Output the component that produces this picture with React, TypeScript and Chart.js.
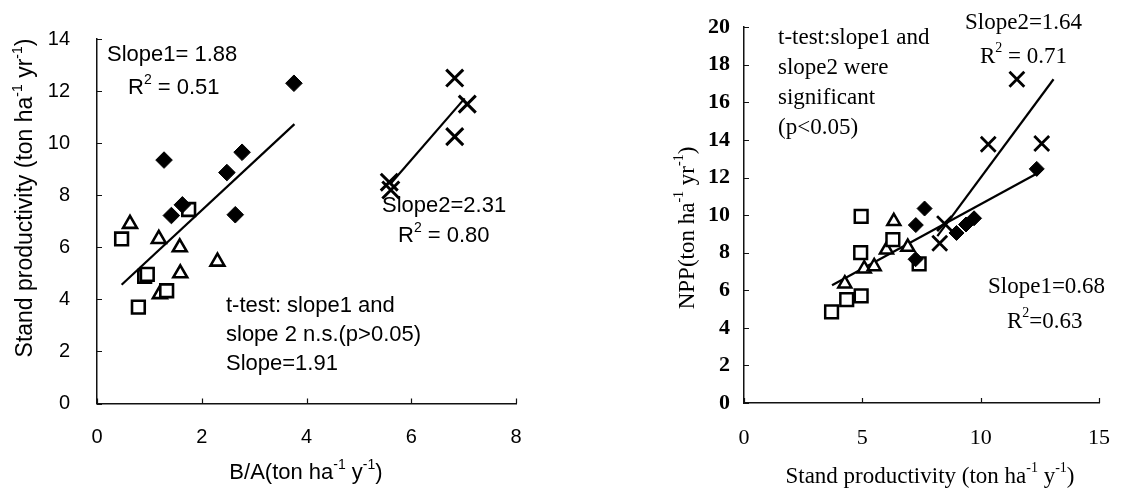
import React, { useEffect, useRef } from 'react';
import { Chart, registerables } from 'chart.js';

Chart.register(...registerables);

// ---------------- Left panel: Stand productivity vs B/A ----------------
const leftXTicks = [0, 2, 4, 6, 8];
const leftYTicks = [0, 2, 4, 6, 8, 10, 12, 14];

const leftDiamondX = [3.76, 1.28, 2.77, 2.48, 1.63, 1.42, 2.64];
const leftDiamondY = [12.3, 9.35, 9.65, 8.87, 7.63, 7.22, 7.25];
const leftSquareX = [1.75, 0.47, 0.91, 0.96, 1.33, 0.79];
const leftSquareY = [7.45, 6.32, 4.88, 4.96, 4.33, 3.7];
const leftTriangleX = [0.63, 1.18, 1.58, 1.59, 2.3, 1.2];
const leftTriangleY = [6.9, 6.32, 6.0, 5.0, 5.45, 4.2];
const leftCrossX = [6.83, 7.07, 6.83, 5.58, 5.61];
const leftCrossY = [12.5, 11.5, 10.25, 8.5, 8.2];
const leftTrend1X = [0.47, 3.77];
const leftTrend1Y = [4.56, 10.73];
const leftTrend2X = [5.61, 7.02];
const leftTrend2Y = [8.45, 11.72];

// ---------------- Right panel: NPP vs Stand productivity ----------------
const rightXTicks = [0, 5, 10, 15];
const rightYTicks = [0, 2, 4, 6, 8, 10, 12, 14, 16, 18, 20];

const rightDiamondX = [12.37, 7.63, 7.26, 9.72, 9.38, 8.98, 7.25];
const rightDiamondY = [12.46, 10.35, 9.47, 9.83, 9.5, 9.05, 7.65];
const rightSquareX = [4.95, 6.29, 4.93, 7.4, 4.34, 4.95, 3.7];
const rightSquareY = [9.93, 8.7, 8.0, 7.4, 5.5, 5.7, 4.85];
const rightTriangleX = [6.33, 6.02, 6.92, 5.08, 5.5, 4.26];
const rightTriangleY = [9.67, 8.15, 8.3, 7.15, 7.27, 6.35];
const rightCrossX = [11.53, 10.32, 12.58, 8.47, 8.27];
const rightCrossY = [17.23, 13.77, 13.81, 9.55, 8.5];
const rightTrend1X = [3.72, 12.36];
const rightTrend1Y = [6.27, 12.2];
const rightTrend2X = [8.17, 13.08];
const rightTrend2Y = [8.88, 17.23];

// ---------------- helpers ----------------
type Part = { t: string; sup?: boolean };
type TextItem = { text: string; x: number; y: number; size: number; align?: 'left' | 'center'; rotate?: boolean };

function parse(s: string): Part[] {
  const out: Part[] = [];
  const re = /\^\{([^}]*)\}/g;
  let last = 0;
  let m: RegExpExecArray | null;
  while ((m = re.exec(s))) {
    if (m.index > last) out.push({ t: s.slice(last, m.index) });
    out.push({ t: m[1], sup: true });
    last = re.lastIndex;
  }
  if (last < s.length) out.push({ t: s.slice(last) });
  return out;
}

function drawRich(ctx: CanvasRenderingContext2D, item: TextItem, family: string) {
  const parts = parse(item.text);
  const size = item.size;
  const big = `${size}px "${family}"`;
  const small = `${Math.round(size * 0.62)}px "${family}"`;
  let total = 0;
  const widths = parts.map((p) => {
    ctx.font = p.sup ? small : big;
    const w = ctx.measureText(p.t).width;
    total += w;
    return w;
  });
  ctx.save();
  ctx.translate(item.x, item.y);
  if (item.rotate) ctx.rotate(-Math.PI / 2);
  let cx = item.align === 'center' ? -total / 2 : 0;
  ctx.textAlign = 'left';
  ctx.textBaseline = 'middle';
  ctx.fillStyle = '#000';
  parts.forEach((p, i) => {
    ctx.font = p.sup ? small : big;
    ctx.fillText(p.t, cx, p.sup ? -size * 0.36 : 0);
    cx += widths[i];
  });
  ctx.restore();
}

function pts(xs: number[], ys: number[]) {
  return xs.map((x, i) => ({ x, y: ys[i] }));
}

function makeDecor(family: string, texts: TextItem[]) {
  return {
    id: 'decor',
    afterDraw(chart: any) {
      const ctx: CanvasRenderingContext2D = chart.ctx;
      const xs = chart.scales.x;
      const ys = chart.scales.y;
      const area = chart.chartArea;
      ctx.save();
      ctx.strokeStyle = '#111';
      ctx.lineWidth = 1.2;
      ctx.beginPath();
      xs.ticks.forEach((t: any) => {
        const px = Math.round(xs.getPixelForValue(t.value)) + 0.5;
        ctx.moveTo(px, area.bottom);
        ctx.lineTo(px, area.bottom - 5);
      });
      ys.ticks.forEach((t: any) => {
        const py = Math.round(ys.getPixelForValue(t.value)) + 0.5;
        ctx.moveTo(area.left, py);
        ctx.lineTo(area.left + 5, py);
      });
      ctx.stroke();
      ctx.restore();
      texts.forEach((t) => drawRich(ctx, t, family));
    },
  };
}

type PanelCfg = {
  family: string;
  tickSize: number;
  xTickWeight: string;
  yTickWeight: string;
  xMin: number; xMax: number; xStep: number; xTicks: number[];
  yMin: number; yMax: number; yStep: number; yTicks: number[];
  left: number; top: number; right: number; bottomHeight: number;
  xPad: number; yPad: number;
  diamonds: [number[], number[]]; squares: [number[], number[]];
  triangles: [number[], number[]]; crosses: [number[], number[]];
  trends: [number[], number[]][];
  mk: { diamond: number; square: number; triangle: number; cross: number; border: number; crossW: number };
  texts: TextItem[];
};

function buildConfig(c: PanelCfg): any {
  const black = '#000';
  const datasets: any[] = [
    {
      data: pts(c.diamonds[0], c.diamonds[1]), pointStyle: 'rectRot', pointRadius: c.mk.diamond,
      backgroundColor: black, borderColor: black, borderWidth: 1,
    },
    {
      data: pts(c.squares[0], c.squares[1]), pointStyle: 'rect', pointRadius: c.mk.square,
      backgroundColor: '#fff', borderColor: black, borderWidth: c.mk.border,
    },
    {
      data: pts(c.triangles[0], c.triangles[1]), pointStyle: 'triangle', pointRadius: c.mk.triangle,
      backgroundColor: '#fff', borderColor: black, borderWidth: c.mk.border,
    },
    {
      data: pts(c.crosses[0], c.crosses[1]), pointStyle: 'crossRot', pointRadius: c.mk.cross,
      backgroundColor: black, borderColor: black, borderWidth: c.mk.crossW,
    },
    ...c.trends.map((t) => ({
      data: pts(t[0], t[1]), showLine: true, pointRadius: 0, borderColor: black, borderWidth: 2.2, fill: false,
    })),
  ];
  const xFont = { family: c.family, size: c.tickSize, weight: c.xTickWeight };
  const yFont = { family: c.family, size: c.tickSize, weight: c.yTickWeight };
  return {
    type: 'scatter',
    data: { datasets },
    options: {
      animation: false,
      responsive: false,
      events: [],
      layout: { padding: { left: 0, top: c.top, right: c.right, bottom: 0 } },
      plugins: { legend: { display: false }, tooltip: { enabled: false }, title: { display: false } },
      scales: {
        x: {
          type: 'linear', min: c.xMin, max: c.xMax,
          afterBuildTicks: (s: any) => { s.ticks = c.xTicks.map((v) => ({ value: v })); },
          ticks: { stepSize: c.xStep, font: xFont, color: '#000', padding: c.xPad, maxRotation: 0 },
          grid: { display: true, drawOnChartArea: false, drawTicks: false },
          border: { display: true, color: '#111', width: 1.5 },
          afterFit: (s: any) => { s.height = c.bottomHeight; },
        },
        y: {
          type: 'linear', min: c.yMin, max: c.yMax,
          afterBuildTicks: (s: any) => { s.ticks = c.yTicks.map((v) => ({ value: v })); },
          ticks: { stepSize: c.yStep, font: yFont, color: '#000', padding: c.yPad },
          grid: { display: true, drawOnChartArea: false, drawTicks: false },
          border: { display: true, color: '#111', width: 1.5 },
          afterFit: (s: any) => { s.width = c.left; },
        },
      },
    },
    plugins: [makeDecor(c.family, c.texts)],
  };
}

const leftCfg: PanelCfg = {
  family: 'Liberation Sans', tickSize: 20, xTickWeight: 'normal', yTickWeight: 'normal',
  xMin: 0, xMax: 8, xStep: 2, xTicks: leftXTicks,
  yMin: 0, yMax: 14, yStep: 2, yTicks: leftYTicks,
  left: 97, top: 19.5, right: 50, bottomHeight: 93.5,
  xPad: 22, yPad: 27,
  diamonds: [leftDiamondX, leftDiamondY], squares: [leftSquareX, leftSquareY],
  triangles: [leftTriangleX, leftTriangleY], crosses: [leftCrossX, leftCrossY],
  trends: [[leftTrend1X, leftTrend1Y], [leftTrend2X, leftTrend2Y]],
  mk: { diamond: 8.3, square: 9, triangle: 8, cross: 12, border: 2.6, crossW: 3 },
  texts: [
    { text: 'Slope1= 1.88', x: 107, y: 55, size: 22 },
    { text: 'R^{2} = 0.51', x: 128, y: 88, size: 22 },
    { text: 'Slope2=2.31', x: 382, y: 206, size: 22 },
    { text: 'R^{2} = 0.80', x: 398, y: 236, size: 22 },
    { text: 't-test: slope1 and', x: 226, y: 306, size: 22 },
    { text: 'slope 2 n.s.(p>0.05)', x: 226, y: 335, size: 22 },
    { text: 'Slope=1.91', x: 226, y: 364, size: 22 },
    { text: 'B/A(ton ha^{-1} y^{-1})', x: 306, y: 473, size: 22, align: 'center' },
    { text: 'Stand productivity (ton ha^{-1} yr^{-1})', x: 26, y: 198, size: 23, align: 'center', rotate: true },
  ],
};

const OFF = 566;
const rightCfg: PanelCfg = {
  family: 'Liberation Serif', tickSize: 22, xTickWeight: 'normal', yTickWeight: 'bold',
  xMin: 0, xMax: 15, xStep: 5, xTicks: rightXTicks,
  yMin: 0, yMax: 20, yStep: 2, yTicks: rightYTicks,
  left: 744 - OFF, top: 21, right: OFF * 2 - 1117, bottomHeight: 94,
  xPad: 22, yPad: 14,
  diamonds: [rightDiamondX, rightDiamondY], squares: [rightSquareX, rightSquareY],
  triangles: [rightTriangleX, rightTriangleY], crosses: [rightCrossX, rightCrossY],
  trends: [[rightTrend1X, rightTrend1Y], [rightTrend2X, rightTrend2Y]],
  mk: { diamond: 7.5, square: 9, triangle: 7.5, cross: 10.5, border: 2.5, crossW: 2.8 },
  texts: [
    { text: 'Slope2=1.64', x: 965 - OFF, y: 23, size: 23 },
    { text: 'R^{2} = 0.71', x: 980 - OFF, y: 57, size: 23 },
    { text: 't-test:slope1 and', x: 778 - OFF, y: 38, size: 23 },
    { text: 'slope2 were', x: 778 - OFF, y: 68, size: 23 },
    { text: 'significant', x: 778 - OFF, y: 98, size: 23 },
    { text: '(p<0.05)', x: 778 - OFF, y: 128, size: 23 },
    { text: 'Slope1=0.68', x: 988 - OFF, y: 287, size: 23 },
    { text: 'R^{2}=0.63', x: 1007 - OFF, y: 322, size: 23 },
    { text: 'Stand productivity (ton ha^{-1} y^{-1})', x: 930 - OFF, y: 477, size: 23, align: 'center' },
    { text: 'NPP(ton ha^{-1} yr^{-1})', x: 688 - OFF, y: 228, size: 23, align: 'center', rotate: true },
  ],
};

function Panel({ cfg, left }: { cfg: PanelCfg; left: number }) {
  const ref = useRef<HTMLCanvasElement>(null);
  useEffect(() => {
    if (!ref.current) return;
    const chart = new Chart(ref.current, buildConfig(cfg));
    return () => chart.destroy();
  }, [cfg]);
  return (
    <canvas
      ref={ref}
      width={566}
      height={497}
      style={{ position: 'absolute', left, top: 0, width: 566, height: 497 }}
    />
  );
}

export default function App() {
  return (
    <div style={{ position: 'fixed', left: 0, top: 0, width: 1132, height: 497, background: '#fff' }}>
      <Panel cfg={leftCfg} left={0} />
      <Panel cfg={rightCfg} left={OFF} />
    </div>
  );
}
